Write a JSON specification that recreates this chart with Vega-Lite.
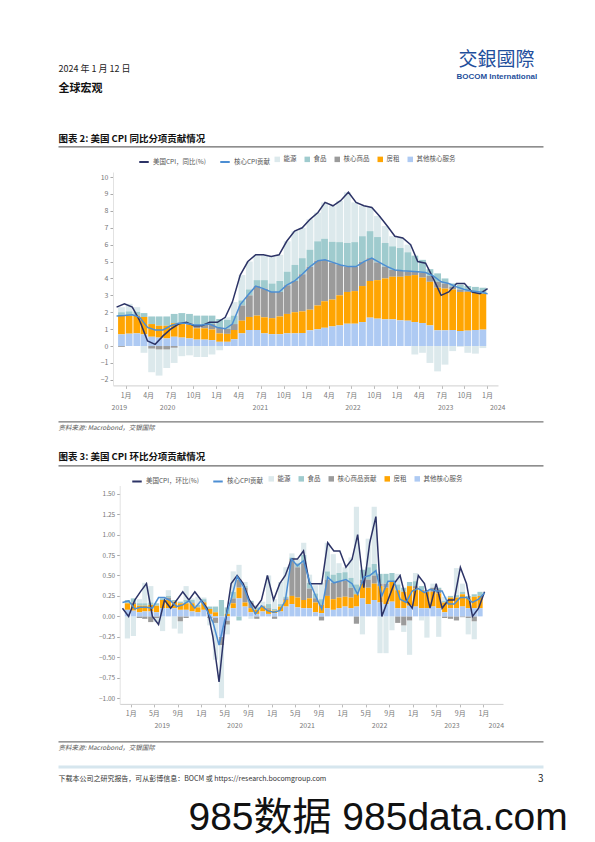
{
  "$schema": "https://vega.github.io/schema/vega-lite/v6.json",
  "background": "white",
  "padding": {"left": 55, "top": 50, "right": 0, "bottom": 0},
  "autosize": {"type": "pad"},
  "config": {
    "font": "Noto Sans CJK SC",
    "view": {"stroke": null},
    "axis": {"grid": false, "labelFont": "Noto Sans CJK SC", "titleFont": "Noto Sans CJK SC"},
    "legend": {"labelFont": "Noto Sans CJK SC"}
  },
  "width": 485,
  "height": 531.9,
  "resolve": {"scale": {"x": "independent", "y": "independent", "fill": "independent", "stroke": "independent"}, "axis": {"x": "independent", "y": "independent"}},
  "datasets": {
    "yoy": [
      {"d":"2019-12-15","services":0.69,"rent":1.09,"goods":-0.05,"food":0.22,"energy":0.3,"cpi":2.3,"core":1.78},
      {"d":"2020-01-15","services":0.73,"rent":1.05,"goods":0.02,"food":0.25,"energy":0.45,"cpi":2.5,"core":1.8},
      {"d":"2020-02-15","services":0.75,"rent":1.05,"goods":0.02,"food":0.2,"energy":0.28,"cpi":2.3,"core":1.85},
      {"d":"2020-03-15","services":0.69,"rent":1.03,"goods":0,"food":0.23,"energy":-0.4,"cpi":1.5,"core":1.7},
      {"d":"2020-04-15","services":0.55,"rent":0.75,"goods":-0.15,"food":0.45,"energy":-1.4,"cpi":0.3,"core":1.1},
      {"d":"2020-05-15","services":0.5,"rent":0.7,"goods":-0.2,"food":0.55,"energy":-1.55,"cpi":0.1,"core":0.95},
      {"d":"2020-06-15","services":0.45,"rent":0.75,"goods":-0.2,"food":0.55,"energy":-1.1,"cpi":0.6,"core":0.95},
      {"d":"2020-07-15","services":0.55,"rent":0.8,"goods":-0.1,"food":0.55,"energy":-0.9,"cpi":1.0,"core":1.2},
      {"d":"2020-08-15","services":0.5,"rent":0.8,"goods":0.05,"food":0.6,"energy":-0.6,"cpi":1.3,"core":1.35},
      {"d":"2020-09-15","services":0.45,"rent":0.8,"goods":0.1,"food":0.55,"energy":-0.55,"cpi":1.4,"core":1.35},
      {"d":"2020-10-15","services":0.38,"rent":0.67,"goods":0.2,"food":0.55,"energy":-0.65,"cpi":1.2,"core":1.25},
      {"d":"2020-11-15","services":0.38,"rent":0.67,"goods":0.2,"food":0.55,"energy":-0.65,"cpi":1.2,"core":1.25},
      {"d":"2020-12-15","services":0.35,"rent":0.63,"goods":0.32,"food":0.5,"energy":-0.5,"cpi":1.4,"core":1.3},
      {"d":"2021-01-15","services":0.25,"rent":0.5,"goods":0.35,"food":0.5,"energy":-0.25,"cpi":1.4,"core":1.1},
      {"d":"2021-02-15","services":0.25,"rent":0.47,"goods":0.3,"food":0.53,"energy":0.15,"cpi":1.7,"core":1.02},
      {"d":"2021-03-15","services":0.4,"rent":0.55,"goods":0.35,"food":0.5,"energy":0.8,"cpi":2.6,"core":1.3},
      {"d":"2021-04-15","services":0.75,"rent":0.75,"goods":0.9,"food":0.3,"energy":1.5,"cpi":4.2,"core":2.45},
      {"d":"2021-05-15","services":0.95,"rent":0.77,"goods":1.28,"food":0.35,"energy":1.65,"cpi":5.0,"core":3.0},
      {"d":"2021-06-15","services":0.95,"rent":0.85,"goods":1.75,"food":0.35,"energy":1.5,"cpi":5.4,"core":3.55},
      {"d":"2021-07-15","services":0.75,"rent":0.95,"goods":1.7,"food":0.5,"energy":1.5,"cpi":5.4,"core":3.4},
      {"d":"2021-08-15","services":0.7,"rent":0.95,"goods":1.55,"food":0.5,"energy":1.6,"cpi":5.3,"core":3.2},
      {"d":"2021-09-15","services":0.7,"rent":1.05,"goods":1.45,"food":0.65,"energy":1.55,"cpi":5.4,"core":3.2},
      {"d":"2021-10-15","services":0.75,"rent":1.15,"goods":1.7,"food":0.8,"energy":1.8,"cpi":6.2,"core":3.6},
      {"d":"2021-11-15","services":0.75,"rent":1.25,"goods":1.85,"food":0.95,"energy":2.0,"cpi":6.8,"core":3.85},
      {"d":"2021-12-15","services":0.77,"rent":1.28,"goods":2.2,"food":0.95,"energy":1.8,"cpi":7.0,"core":4.25},
      {"d":"2022-01-15","services":0.93,"rent":1.22,"goods":2.55,"food":1.0,"energy":1.8,"cpi":7.5,"core":4.7},
      {"d":"2022-02-15","services":0.99,"rent":1.41,"goods":2.65,"food":1.15,"energy":1.7,"cpi":7.9,"core":5.05},
      {"d":"2022-03-15","services":1.08,"rent":1.57,"goods":2.45,"food":1.25,"energy":2.15,"cpi":8.5,"core":5.1},
      {"d":"2022-04-15","services":1.16,"rent":1.59,"goods":2.2,"food":1.22,"energy":2.13,"cpi":8.3,"core":4.95},
      {"d":"2022-05-15","services":1.22,"rent":1.78,"goods":1.8,"food":1.35,"energy":2.45,"cpi":8.6,"core":4.8},
      {"d":"2022-06-15","services":1.32,"rent":1.88,"goods":1.5,"food":1.4,"energy":3.0,"cpi":9.1,"core":4.7},
      {"d":"2022-07-15","services":1.32,"rent":1.93,"goods":1.45,"food":1.45,"energy":2.35,"cpi":8.5,"core":4.7},
      {"d":"2022-08-15","services":1.42,"rent":2.13,"goods":1.45,"food":1.5,"energy":1.8,"cpi":8.3,"core":5.0},
      {"d":"2022-09-15","services":1.68,"rent":2.17,"goods":1.35,"food":1.6,"energy":1.4,"cpi":8.2,"core":5.2},
      {"d":"2022-10-15","services":1.62,"rent":2.28,"goods":1.05,"food":1.5,"energy":1.25,"cpi":7.7,"core":4.95},
      {"d":"2022-11-15","services":1.58,"rent":2.42,"goods":0.7,"food":1.4,"energy":1.0,"cpi":7.1,"core":4.7},
      {"d":"2022-12-15","services":1.58,"rent":2.52,"goods":0.4,"food":1.4,"energy":0.6,"cpi":6.5,"core":4.5},
      {"d":"2023-01-15","services":1.52,"rent":2.58,"goods":0.35,"food":1.35,"energy":0.6,"cpi":6.4,"core":4.45},
      {"d":"2023-02-15","services":1.5,"rent":2.65,"goods":0.27,"food":1.13,"energy":0.45,"cpi":6.0,"core":4.42},
      {"d":"2023-03-15","services":1.42,"rent":2.78,"goods":0.2,"food":0.95,"energy":-0.5,"cpi":5.0,"core":4.4},
      {"d":"2023-04-15","services":1.36,"rent":2.69,"goods":0.3,"food":0.75,"energy":-0.4,"cpi":4.9,"core":4.35},
      {"d":"2023-05-15","services":1.22,"rent":2.58,"goods":0.35,"food":0.4,"energy":-1.0,"cpi":4.0,"core":4.15},
      {"d":"2023-06-15","services":0.93,"rent":2.52,"goods":0.35,"food":0.5,"energy":-1.5,"cpi":3.0,"core":3.8},
      {"d":"2023-07-15","services":0.93,"rent":2.47,"goods":0.3,"food":0.3,"energy":-1.1,"cpi":3.2,"core":3.7},
      {"d":"2023-08-15","services":0.95,"rent":2.4,"goods":0.15,"food":0.2,"energy":-0.3,"cpi":3.7,"core":3.5},
      {"d":"2023-09-15","services":0.89,"rent":2.31,"goods":0.15,"food":0.28,"energy":-0.05,"cpi":3.7,"core":3.35},
      {"d":"2023-10-15","services":0.91,"rent":2.29,"goods":0.05,"food":0.3,"energy":-0.4,"cpi":3.2,"core":3.25},
      {"d":"2023-11-15","services":0.95,"rent":2.2,"goods":0.05,"food":0.3,"energy":-0.45,"cpi":3.1,"core":3.2},
      {"d":"2023-12-15","services":0.97,"rent":2.13,"goods":0,"food":0.35,"energy":-0.12,"cpi":3.4,"core":3.1}
    ],
    "mom": [
      {"d":"2018-12-15","services":0.08,"rent":0.08,"goods":0,"food":0.04,"energy":-0.27,"cpi":0.1,"core":0.17},
      {"d":"2019-01-15","services":0.07,"rent":0.08,"goods":0.02,"food":0.05,"energy":-0.24,"cpi":0.0,"core":0.19},
      {"d":"2019-02-15","services":0.05,"rent":0.08,"goods":-0.02,"food":0.03,"energy":0.05,"cpi":0.2,"core":0.09},
      {"d":"2019-03-15","services":0.06,"rent":0.07,"goods":-0.03,"food":0.03,"energy":0.25,"cpi":0.3,"core":0.11},
      {"d":"2019-04-15","services":0.06,"rent":0.08,"goods":-0.07,"food":0.03,"energy":0.2,"cpi":0.4,"core":0.11},
      {"d":"2019-05-15","services":0.05,"rent":0.08,"goods":-0.02,"food":0.03,"energy":-0.05,"cpi":0.0,"core":0.1},
      {"d":"2019-06-15","services":0.1,"rent":0.1,"goods":0,"food":0.02,"energy":-0.18,"cpi":-0.1,"core":0.23},
      {"d":"2019-07-15","services":0.1,"rent":0.1,"goods":0.03,"food":0.02,"energy":0.07,"cpi":0.2,"core":0.23},
      {"d":"2019-08-15","services":0.1,"rent":0.08,"goods":0,"food":0.02,"energy":-0.15,"cpi":0.1,"core":0.19},
      {"d":"2019-09-15","services":0.08,"rent":0.08,"goods":-0.06,"food":0.02,"energy":-0.15,"cpi":0.2,"core":0.12},
      {"d":"2019-10-15","services":0.08,"rent":0.08,"goods":-0.02,"food":0.04,"energy":0.17,"cpi":0.3,"core":0.14},
      {"d":"2019-11-15","services":0.06,"rent":0.1,"goods":0.01,"food":0.03,"energy":0.02,"cpi":0.2,"core":0.19},
      {"d":"2019-12-15","services":0.05,"rent":0.06,"goods":0,"food":0.03,"energy":0.1,"cpi":0.3,"core":0.1},
      {"d":"2020-01-15","services":0.08,"rent":0.09,"goods":0.01,"food":0.03,"energy":0.02,"cpi":0.2,"core":0.19},
      {"d":"2020-02-15","services":0.03,"rent":0.06,"goods":-0.02,"food":0.03,"energy":-0.09,"cpi":0.1,"core":0.07},
      {"d":"2020-03-15","services":-0.02,"rent":0.05,"goods":-0.06,"food":0.07,"energy":-0.45,"cpi":-0.25,"core":-0.07},
      {"d":"2020-04-15","services":-0.25,"rent":0.0,"goods":-0.1,"food":0.2,"energy":-0.65,"cpi":-0.8,"core":-0.35},
      {"d":"2020-05-15","services":-0.05,"rent":0.03,"goods":-0.05,"food":0.08,"energy":-0.12,"cpi":-0.1,"core":-0.03},
      {"d":"2020-06-15","services":0.1,"rent":0.06,"goods":0.06,"food":0.08,"energy":0.25,"cpi":0.4,"core":0.21},
      {"d":"2020-07-15","services":0.22,"rent":0.13,"goods":0.1,"food":-0.05,"energy":0.18,"cpi":0.5,"core":0.49},
      {"d":"2020-08-15","services":0.12,"rent":0.05,"goods":0.18,"food":0.02,"energy":0.05,"cpi":0.4,"core":0.37},
      {"d":"2020-09-15","services":0.05,"rent":0.05,"goods":0.07,"food":0.02,"energy":-0.03,"cpi":0.2,"core":0.17},
      {"d":"2020-10-15","services":0.03,"rent":0.05,"goods":-0.03,"food":0.03,"energy":0.03,"cpi":0.1,"core":0.03},
      {"d":"2020-11-15","services":0.06,"rent":0.06,"goods":0.01,"food":0.0,"energy":0.05,"cpi":0.2,"core":0.13},
      {"d":"2020-12-15","services":0.03,"rent":0.05,"goods":0.02,"food":0.05,"energy":0.35,"cpi":0.5,"core":0.07},
      {"d":"2021-01-15","services":0.04,"rent":0.03,"goods":-0.03,"food":0.02,"energy":0.12,"cpi":0.2,"core":0.05},
      {"d":"2021-02-15","services":0.06,"rent":0.06,"goods":0,"food":0.03,"energy":0.27,"cpi":0.4,"core":0.07},
      {"d":"2021-03-15","services":0.12,"rent":0.08,"goods":0.02,"food":0.02,"energy":0.36,"cpi":0.5,"core":0.19},
      {"d":"2021-04-15","services":0.15,"rent":0.1,"goods":0.45,"food":0.02,"energy":0.05,"cpi":0.7,"core":0.7},
      {"d":"2021-05-15","services":0.11,"rent":0.12,"goods":0.37,"food":0.05,"energy":0.05,"cpi":0.7,"core":0.62},
      {"d":"2021-06-15","services":0.1,"rent":0.1,"goods":0.45,"food":0.1,"energy":0.15,"cpi":0.8,"core":0.68},
      {"d":"2021-07-15","services":0.1,"rent":0.12,"goods":0.12,"food":0.07,"energy":0.1,"cpi":0.4,"core":0.43},
      {"d":"2021-08-15","services":0.05,"rent":0.12,"goods":0.05,"food":0.06,"energy":0.1,"cpi":0.4,"core":0.25},
      {"d":"2021-09-15","services":0.04,"rent":0.1,"goods":-0.05,"food":0.07,"energy":0.2,"cpi":0.4,"core":0.09},
      {"d":"2021-10-15","services":0.1,"rent":0.15,"goods":0.2,"food":0.1,"energy":0.35,"cpi":0.9,"core":0.48},
      {"d":"2021-11-15","services":0.08,"rent":0.13,"goods":0.2,"food":0.1,"energy":0.25,"cpi":0.8,"core":0.41},
      {"d":"2021-12-15","services":0.1,"rent":0.13,"goods":0.2,"food":0.1,"energy":0.12,"cpi":0.8,"core":0.43},
      {"d":"2022-01-15","services":0.12,"rent":0.12,"goods":0.2,"food":0.1,"energy":0.06,"cpi":0.6,"core":0.45},
      {"d":"2022-02-15","services":0.1,"rent":0.13,"goods":0.12,"food":0.12,"energy":0.25,"cpi":0.7,"core":0.4},
      {"d":"2022-03-15","services":0.12,"rent":0.15,"goods":-0.09,"food":0.12,"energy":0.95,"cpi":1.0,"core":0.27},
      {"d":"2022-04-15","services":0.22,"rent":0.18,"goods":0.05,"food":0.12,"energy":-0.22,"cpi":0.35,"core":0.48},
      {"d":"2022-05-15","services":0.15,"rent":0.2,"goods":0.1,"food":0.15,"energy":0.35,"cpi":0.9,"core":0.5},
      {"d":"2022-06-15","services":0.2,"rent":0.2,"goods":0.1,"food":0.14,"energy":0.7,"cpi":1.22,"core":0.56},
      {"d":"2022-07-15","services":0.17,"rent":0.2,"goods":0.03,"food":0.12,"energy":-0.45,"cpi":0.0,"core":0.25},
      {"d":"2022-08-15","services":0.15,"rent":0.2,"goods":0.05,"food":0.12,"energy":-0.45,"cpi":0.2,"core":0.43},
      {"d":"2022-09-15","services":0.18,"rent":0.25,"goods":0,"food":0.1,"energy":-0.17,"cpi":0.4,"core":0.43},
      {"d":"2022-10-15","services":0.1,"rent":0.22,"goods":-0.08,"food":0.07,"energy":0.13,"cpi":0.5,"core":0.21},
      {"d":"2022-11-15","services":0.1,"rent":0.2,"goods":-0.11,"food":0.05,"energy":-0.08,"cpi":0.2,"core":0.17},
      {"d":"2022-12-15","services":0.13,"rent":0.24,"goods":-0.05,"food":0.05,"energy":-0.42,"cpi":0.1,"core":0.31},
      {"d":"2023-01-15","services":0.12,"rent":0.22,"goods":0.03,"food":0.06,"energy":0.1,"cpi":0.5,"core":0.34},
      {"d":"2023-02-15","services":0.1,"rent":0.22,"goods":0,"food":0.05,"energy":-0.05,"cpi":0.4,"core":0.29},
      {"d":"2023-03-15","services":0.1,"rent":0.2,"goods":0.02,"food":0.0,"energy":-0.26,"cpi":0.1,"core":0.33},
      {"d":"2023-04-15","services":0.12,"rent":0.18,"goods":0.05,"food":0.0,"energy":0.05,"cpi":0.4,"core":0.31},
      {"d":"2023-05-15","services":0.1,"rent":0.18,"goods":0.05,"food":0.02,"energy":-0.25,"cpi":0.1,"core":0.31},
      {"d":"2023-06-15","services":0.05,"rent":0.12,"goods":-0.02,"food":0.02,"energy":0.05,"cpi":0.2,"core":0.15},
      {"d":"2023-07-15","services":0.1,"rent":0.13,"goods":-0.03,"food":0.02,"energy":0.0,"cpi":0.2,"core":0.15},
      {"d":"2023-08-15","services":0.1,"rent":0.13,"goods":-0.05,"food":0.03,"energy":0.33,"cpi":0.6,"core":0.23},
      {"d":"2023-09-15","services":0.12,"rent":0.15,"goods":-0.01,"food":0.03,"energy":0.1,"cpi":0.4,"core":0.23},
      {"d":"2023-10-15","services":0.1,"rent":0.12,"goods":-0.02,"food":0.03,"energy":-0.2,"cpi":0.0,"core":0.17},
      {"d":"2023-11-15","services":0.1,"rent":0.14,"goods":-0.06,"food":0.03,"energy":-0.22,"cpi":0.1,"core":0.21},
      {"d":"2023-12-15","services":0.1,"rent":0.15,"goods":0,"food":0.05,"energy":0.0,"cpi":0.3,"core":0.29}
    ]
  },
  "layer": [
    {
      "data": {"name": "yoy"},
      "transform": [{"fold": ["energy", "food", "goods", "rent", "services"], "as": ["k", "v"]}],
      "mark": {"type": "bar", "width": 6.8},
      "encoding": {
        "x": {"field": "d", "type": "temporal",
          "scale": {"type": "utc", "domain": [{"year": 2019, "month": 12, "date": 1, "utc": true}, {"year": 2024, "month": 1, "date": 25, "utc": true}], "range": [55, 440]},
          "axis": {"orient": "bottom", "offset": -318.5, "tickCount": {"interval": "month", "step": 3}, "labelExpr": "(utcmonth(datum.value)+1) + '月'", "domain": true, "domainColor": "#cfcfcf", "ticks": true, "tickColor": "#bbb", "tickSize": 3, "labelColor": "#777", "labelFontSize": 7, "labelPadding": 3.5, "labelOverlap": false, "labelFlush": false, "title": null}},
        "y": {"field": "v", "type": "quantitative", "stack": "zero",
          "scale": {"domain": [-2.33, 10.3], "nice": false, "zero": false, "range": [213.4, 0]},
          "axis": {"orient": "left", "offset": -55, "values": [-2, -1, 0, 1, 2, 3, 4, 5, 6, 7, 8, 9, 10], "domain": true, "domainColor": "#e2e2e2", "tickColor": "#aaa", "tickSize": 3, "labelColor": "#777", "labelFontSize": 7, "labelPadding": 2, "title": null}},
        "fill": {"field": "k", "type": "nominal",
          "scale": {"domain": ["energy", "food", "goods", "rent", "services"], "range": ["#dce9ec", "#9fcbce", "#9b9b9b", "#ffa502", "#aecaf3"]},
          "legend": {"orient": "none", "legendX": 216, "legendY": -16, "direction": "horizontal", "title": null, "symbolType": "square", "symbolSize": 30, "symbolStrokeWidth": 0, "labelFontSize": 6.5, "labelColor": "#555", "labelOffset": 3, "columnPadding": 7,
            "labelExpr": "datum.label == 'energy' ? '能源' : datum.label == 'food' ? '食品' : datum.label == 'goods' ? '核心商品' : datum.label == 'rent' ? '房租' : '其他核心服务'"}},
        "order": {"field": "k", "sort": "descending"}
      }
    },
    {
      "data": {"name": "yoy"},
      "transform": [{"fold": ["cpi", "core"], "as": ["s", "v"]}],
      "mark": {"type": "line", "strokeWidth": 1.5},
      "encoding": {
        "x": {"field": "d", "type": "temporal",
          "scale": {"type": "utc", "domain": [{"year": 2019, "month": 12, "date": 1, "utc": true}, {"year": 2024, "month": 1, "date": 25, "utc": true}], "range": [55, 440]},
          "axis": {"orient": "bottom", "offset": -304.5, "values": [{"year": 2019, "month": 12, "date": 24, "utc": true}, {"year": 2020, "month": 7, "date": 1, "utc": true}, {"year": 2021, "month": 7, "date": 1, "utc": true}, {"year": 2022, "month": 7, "date": 1, "utc": true}, {"year": 2023, "month": 7, "date": 1, "utc": true}, {"year": 2024, "month": 1, "date": 22, "utc": true}], "labelExpr": "utcFormat(datum.value, '%Y')", "domain": false, "ticks": false, "labelColor": "#777", "labelFontSize": 7, "labelPadding": 4, "labelOverlap": false, "labelFlush": false, "title": null}},
        "y": {"field": "v", "type": "quantitative",
          "scale": {"domain": [-2.33, 10.3], "nice": false, "zero": false, "range": [213.4, 0]},
          "axis": null},
        "stroke": {"field": "s", "type": "nominal",
          "scale": {"domain": ["cpi", "core"], "range": ["#2c3366", "#4c8ed3"]},
          "legend": {"orient": "none", "legendX": 80, "legendY": -16, "direction": "horizontal", "title": null, "symbolType": "stroke", "symbolStrokeWidth": 2, "symbolSize": 90, "labelFontSize": 6.5, "labelColor": "#555", "labelOffset": 3, "columnPadding": 9,
            "labelExpr": "datum.label == 'cpi' ? '美国CPI，同比(%)' : '核心CPI贡献'"}}
      }
    },
    {
      "data": {"name": "mom"},
      "transform": [{"fold": ["energy", "food", "goods", "rent", "services"], "as": ["k", "v"]}],
      "mark": {"type": "bar", "width": 5.2},
      "encoding": {
        "x": {"field": "d", "type": "temporal",
          "scale": {"type": "utc", "domain": [{"year": 2018, "month": 12, "date": 1, "utc": true}, {"year": 2024, "month": 3, "date": 17, "utc": true}], "range": [61.7, 445]},
          "axis": {"orient": "bottom", "tickCount": {"interval": "month", "step": 4}, "labelExpr": "(utcmonth(datum.value)+1) + '月'", "domain": true, "domainColor": "#cfcfcf", "ticks": true, "tickColor": "#bbb", "tickSize": 3, "labelColor": "#777", "labelFontSize": 7, "labelPadding": 3, "labelOverlap": false, "labelFlush": false, "title": null}},
        "y": {"field": "v", "type": "quantitative", "stack": "zero",
          "scale": {"domain": [-1.07, 1.6], "nice": false, "zero": false, "range": [531.9, 313.5]},
          "axis": {"orient": "left", "offset": -61.7, "values": [-1, -0.75, -0.5, -0.25, 0, 0.25, 0.5, 0.75, 1, 1.25, 1.5], "format": ".2f", "domain": true, "domainColor": "#e2e2e2", "tickColor": "#aaa", "tickSize": 3, "labelColor": "#777", "labelFontSize": 6.5, "labelPadding": 2, "title": null}},
        "fill": {"field": "k", "type": "nominal",
          "scale": {"domain": ["energy", "food", "goods", "rent", "services"], "range": ["#dce9ec", "#9fcbce", "#9b9b9b", "#ffa502", "#aecaf3"]},
          "legend": {"orient": "none", "legendX": 210, "legendY": 303.5, "direction": "horizontal", "title": null, "symbolType": "square", "symbolSize": 30, "symbolStrokeWidth": 0, "labelFontSize": 6.5, "labelColor": "#555", "labelOffset": 3, "columnPadding": 7,
            "labelExpr": "datum.label == 'energy' ? '能源' : datum.label == 'food' ? '食品' : datum.label == 'goods' ? '核心商品贡献' : datum.label == 'rent' ? '房租' : '其他核心服务'"}},
        "order": {"field": "k", "sort": "descending"}
      }
    },
    {
      "data": {"name": "mom"},
      "transform": [{"fold": ["cpi", "core"], "as": ["s", "v"]}],
      "mark": {"type": "line", "strokeWidth": 1.5},
      "encoding": {
        "x": {"field": "d", "type": "temporal",
          "scale": {"type": "utc", "domain": [{"year": 2018, "month": 12, "date": 1, "utc": true}, {"year": 2024, "month": 3, "date": 17, "utc": true}], "range": [61.7, 445]},
          "axis": {"orient": "bottom", "offset": 15, "values": [{"year": 2019, "month": 7, "date": 1, "utc": true}, {"year": 2020, "month": 7, "date": 1, "utc": true}, {"year": 2021, "month": 7, "date": 1, "utc": true}, {"year": 2022, "month": 7, "date": 1, "utc": true}, {"year": 2023, "month": 7, "date": 1, "utc": true}, {"year": 2024, "month": 2, "date": 10, "utc": true}], "labelExpr": "utcFormat(datum.value, '%Y')", "domain": false, "ticks": false, "labelColor": "#777", "labelFontSize": 7, "labelPadding": 3, "labelOverlap": false, "labelFlush": false, "title": null}},
        "y": {"field": "v", "type": "quantitative",
          "scale": {"domain": [-1.07, 1.6], "nice": false, "zero": false, "range": [531.9, 313.5]},
          "axis": null},
        "stroke": {"field": "s", "type": "nominal",
          "scale": {"domain": ["cpi", "core"], "range": ["#2c3366", "#4c8ed3"]},
          "legend": {"orient": "none", "legendX": 73, "legendY": 303.5, "direction": "horizontal", "title": null, "symbolType": "stroke", "symbolStrokeWidth": 2, "symbolSize": 90, "labelFontSize": 6.5, "labelColor": "#555", "labelOffset": 3, "columnPadding": 9,
            "labelExpr": "datum.label == 'cpi' ? '美国CPI，环比(%)' : '核心CPI贡献'"}}
      }
    },
    {
      "data": {"name": "yoy"},
      "mark": {"type": "point", "opacity": 0},
      "encoding": {"x": {"field": "d", "type": "temporal", "axis": {"orient": "top", "offset": 25.6, "domain": true, "domainColor": "#444", "domainWidth": 1, "ticks": false, "labels": false,
        "title": "图表 2: 美国 CPI 同比分项贡献情况", "titleAnchor": "start", "titleAlign": "left", "titleFontSize": 9.5, "titleFontWeight": "bold", "titleColor": "#111", "titlePadding": 3}}}
    },
    {
      "data": {"name": "yoy"},
      "mark": {"type": "point", "opacity": 0},
      "encoding": {"x": {"field": "d", "type": "temporal", "axis": {"orient": "bottom", "offset": -282.5, "domain": true, "domainColor": "#555", "domainWidth": 1, "ticks": false, "labels": false,
        "title": "资料来源: Macrobond，交银国际", "titleAnchor": "start", "titleAlign": "left", "titleFontStyle": "italic", "titleFontWeight": "normal", "titleFontSize": 6.5, "titleColor": "#555", "titlePadding": 3}}}
    },
    {
      "data": {"name": "yoy"},
      "mark": {"type": "point", "opacity": 0},
      "encoding": {"x": {"field": "d", "type": "temporal", "axis": {"orient": "top", "offset": -293.4, "domain": true, "domainColor": "#444", "domainWidth": 1, "ticks": false, "labels": false,
        "title": "图表 3: 美国 CPI 环比分项贡献情况", "titleAnchor": "start", "titleAlign": "left", "titleFontSize": 9.5, "titleFontWeight": "bold", "titleColor": "#111", "titlePadding": 4}}}
    },
    {
      "data": {"name": "yoy"},
      "mark": {"type": "point", "opacity": 0},
      "encoding": {"x": {"field": "d", "type": "temporal", "axis": {"orient": "bottom", "offset": 37.5, "domain": true, "domainColor": "#555", "domainWidth": 1, "ticks": false, "labels": false,
        "title": "资料来源: Macrobond，交银国际", "titleAnchor": "start", "titleAlign": "left", "titleFontStyle": "italic", "titleFontWeight": "normal", "titleFontSize": 6.5, "titleColor": "#555", "titlePadding": 3}}}
    },
    {
      "data": {"name": "yoy"},
      "mark": {"type": "point", "opacity": 0},
      "encoding": {"x": {"field": "d", "type": "temporal", "axis": {"orient": "bottom", "offset": 62.5, "domain": true, "domainColor": "#d6e6ee", "domainWidth": 3, "ticks": false, "labels": false,
        "title": "下载本公司之研究报告，可从彭博信息：BOCM 或 https://research.bocomgroup.com", "titleAnchor": "start", "titleAlign": "left", "titleFontWeight": "normal", "titleFontSize": 7, "titleColor": "#333", "titlePadding": 8}}}
    },
    {
      "data": {"name": "yoy"},
      "mark": {"type": "point", "opacity": 0},
      "encoding": {"x": {"field": "d", "type": "temporal", "axis": {"orient": "bottom", "offset": 62.5, "domain": false, "ticks": false, "labels": false,
        "title": "3", "titleAnchor": "end", "titleAlign": "right", "titleFontWeight": "normal", "titleFontSize": 10, "titleColor": "#222", "titlePadding": 7}}}
    },
    {
      "data": {"name": "yoy"},
      "mark": {"type": "point", "opacity": 0},
      "encoding": {"x": {"field": "d", "type": "temporal", "axis": {"orient": "bottom", "offset": 62.5, "domain": false, "ticks": false, "labels": false,
        "title": "985数据 985data.com", "titleX": 130, "titleAlign": "left", "titleFont": "Liberation Sans, Noto Sans CJK SC", "titleFontWeight": "normal", "titleFontSize": 39, "titleColor": "#111", "titlePadding": 32}}}
    },
    {
      "data": {"name": "yoy"},
      "mark": {"type": "point", "opacity": 0},
      "encoding": {"x": {"field": "d", "type": "temporal", "axis": {"orient": "top", "offset": 78.6, "domain": false, "ticks": false, "labels": false,
        "title": "全球宏观", "titleAnchor": "start", "titleAlign": "left", "titleFontWeight": "bold", "titleFontSize": 11, "titleColor": "#111", "titlePadding": 0}}}
    },
    {
      "data": {"name": "yoy"},
      "mark": {"type": "point", "opacity": 0},
      "encoding": {"x": {"field": "d", "type": "temporal", "axis": {"orient": "top", "offset": 98, "domain": false, "ticks": false, "labels": false,
        "title": "2024 年 1 月 12 日", "titleAnchor": "start", "titleAlign": "left", "titleFontWeight": "normal", "titleFontSize": 9, "titleColor": "#222", "titlePadding": 0}}}
    },
    {
      "data": {"name": "yoy"},
      "mark": {"type": "point", "opacity": 0},
      "encoding": {"x": {"field": "d", "type": "temporal", "axis": {"orient": "top", "offset": 102.6, "domain": false, "ticks": false, "labels": false,
        "title": "交銀國際", "titleX": 400, "titleAlign": "left", "titleFontWeight": "normal", "titleFontSize": 19, "titleColor": "#1f4f9c", "titlePadding": 0}}}
    },
    {
      "data": {"name": "yoy"},
      "mark": {"type": "point", "opacity": 0},
      "encoding": {"x": {"field": "d", "type": "temporal", "axis": {"orient": "top", "offset": 91.6, "domain": false, "ticks": false, "labels": false,
        "title": "BOCOM International", "titleX": 398, "titleAlign": "left", "titleFont": "Liberation Sans", "titleFontWeight": "bold", "titleFontSize": 8, "titleColor": "#1f4f9c", "titlePadding": 0}}}
    }
  ]
}
